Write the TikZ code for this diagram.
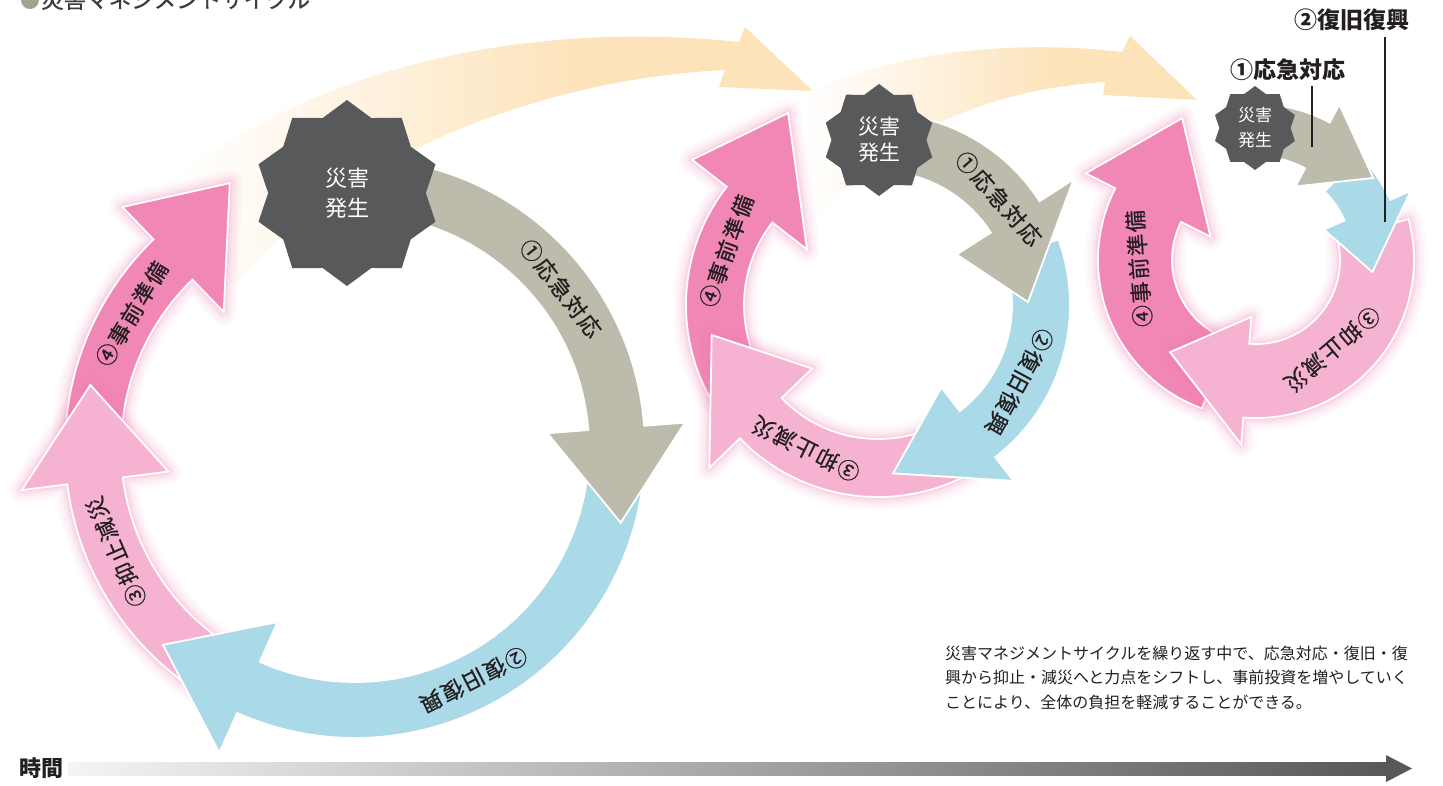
\documentclass[tikz,border=0pt]{standalone}
\usepackage{fontspec}
\newfontfamily\jp{Noto Sans CJK JP}
\newfontfamily\jpm{Noto Sans CJK JP}[FakeBold=0.6,LetterSpace=8]
\newfontfamily\jpt{Noto Sans CJK JP}[FakeBold=0.5]
\usetikzlibrary{shapes.geometric}
\definecolor{cgray}{HTML}{BDBBAB}
\definecolor{cblue}{HTML}{AAD9E8}
\definecolor{cpinkL}{HTML}{F5B3D1}
\definecolor{cpinkD}{HTML}{F087B5}
\definecolor{cburst}{HTML}{58595B}
\definecolor{cpeach}{HTML}{FDE3BA}
\definecolor{ctext}{HTML}{231F20}
\definecolor{cbullet}{HTML}{A3A28F}
\definecolor{cglow}{HTML}{F27BB0}
\definecolor{ctitle}{HTML}{3C3C3C}
\definecolor{tlL}{HTML}{F4F4F4}
\definecolor{tlR}{HTML}{58585A}
\pgfdeclarehorizontalshading{beigefade}{100bp}{color(0bp)=(white); color(27bp)=(white); color(58bp)=(cpeach); color(100bp)=(cpeach)}
% ring arrow: #1 start angle, #2 head base angle, #3 mid radius, #4 band width, #5 head width, #6 tip angle, #7 tip radius
\newcommand\ringarrow[7]{({#1}:{#3+#4/2}) arc[start angle={#1},end angle={#2},radius={#3+#4/2}] -- ({#2}:{#3+#5/2}) -- ({#6}:{#7}) -- ({#2}:{#3-#5/2}) -- ({#2}:{#3-#4/2}) arc[start angle={#2},end angle={#1},radius={#3-#4/2}] -- cycle}
\newcommand\glowunder[1]{\foreach \gw/\go in {26/0.04,20/0.05,14/0.07,9/0.09,5/0.12}{\draw[draw=cglow,line width=\gw,opacity=\go,line join=round] #1;}}
% ring label: #1 name, #2 angle, #3 radius, #4 text
\newcommand\ringlabel[4]{\node[ringtext,rotate={-(#2)-90}] (#1) at ({#2}:{#3}) {#4};}
\begin{document}
\begin{tikzpicture}[x=1pt,y=-1pt,
  arrowedge/.style={draw=white,line width=1.8,line join=miter},
  ringtext/.style={text=ctext,inner sep=0,font=\jpm\fontsize{22}{22}\selectfont},
  burst/.style={star,star points=10,star point ratio=1.18,fill=cburst,inner sep=0,text=white,align=center},
  toplabel/.style={text=ctext,inner sep=0,font=\jp\bfseries\fontsize{23}{23}\selectfont},
  leader/.style={draw=ctext,line width=1.3}]
\useasboundingbox (0,0) rectangle (1443,785);
\clip (0,0) rectangle (1443,785);
\fill[white] (0,0) rectangle (1443,785);

% title (cut off at top, as in the original)
\fill[cbullet] (30,0) circle[radius=9];
\node[anchor=base west,inner sep=0,text=ctitle,font=\jpt\fontsize{22.5}{22.5}\selectfont] (title) at (41,8) {災害マネジメントサイクル};

% beige time-flow arrows
\shade[shading=beigefade] (150,200) .. controls (290,75) and (510,18) .. (739,42) -- (745,27) -- (813,91) -- (719,87) -- (725,70) .. controls (520,80) and (330,170) .. (235,285) -- cycle;
\shade[shading=beigefade] (790,100) .. controls (880,55) and (1000,38) .. (1122,52) -- (1130,36) -- (1197,100) -- (1103,95) -- (1105,82) .. controls (1000,88) and (880,130) .. (815,225) -- cycle;

% ---------- cycle 1 ----------
\begin{scope}[shift={(355,448)}]
\glowunder{\ringarrow{183}{226}{262}{56}{146}{244.7}{293}}
\filldraw[arrowedge,fill=cpinkD] \ringarrow{183}{226}{262}{56}{146}{244.7}{293};
\glowunder{\ringarrow{122}{172.8}{262}{56}{148}{193.4}{272}}
\filldraw[arrowedge,fill=cpinkL] \ringarrow{122}{172.8}{262}{56}{148}{193.4}{272};
\filldraw[arrowedge,fill=cblue] \ringarrow{1}{114}{262}{56}{143}{134.3}{275};
\filldraw[arrowedge,fill=cgray] \ringarrow{275}{355.6}{262}{56}{138}{375.7}{276};
\ringlabel{a1}{322.2}{260.5}{①応急対応}
\ringlabel{a2}{62.9}{260.5}{②復旧復興}
\ringlabel{a3}{156.5}{260.5}{③抑止減災}
\ringlabel{a4}{211}{260.5}{④事前準備}
\end{scope}
\node[burst,minimum size=186,font=\jp\fontsize{22}{30}\selectfont] (b1) at (347,193) {災害\\発生};

% ---------- cycle 2 ----------
\begin{scope}[shift={(878,305)}]
\glowunder{\ringarrow{150}{218}{163}{58}{146}{244.9}{212}}
\filldraw[arrowedge,fill=cpinkD] \ringarrow{150}{218}{163}{58}{146}{244.9}{212};
\glowunder{\ringarrow{62}{136}{163}{58}{143}{169.8}{169}}
\filldraw[arrowedge,fill=cpinkL] \ringarrow{62}{136}{163}{58}{143}{169.8}{169};
\filldraw[arrowedge,fill=cblue] \ringarrow{-20}{52.4}{163}{58}{118}{84.9}{169};
\filldraw[arrowedge,fill=cgray] \ringarrow{268}{327.3}{163}{58}{139}{358.9}{150};
\ringlabel{b1l}{318.6}{161}{①応急対応}
\ringlabel{b2l}{28.5}{161}{②復旧復興}
\ringlabel{b3l}{116.6}{161}{③抑止減災}
\ringlabel{b4l}{199.6}{161}{④事前準備}
\end{scope}
\node[burst,minimum size=112,font=\jp\fontsize{21}{26}\selectfont] (b2) at (879,140) {災害\\発生};

% ---------- cycle 3 ----------
\begin{scope}[shift={(1256,260)}]
\glowunder{\ringarrow{110}{207}{121}{74}{140}{242.5}{160}}
\filldraw[arrowedge,fill=cpinkD] \ringarrow{110}{207}{121}{74}{140}{242.5}{160};
\glowunder{\ringarrow{-15}{94.6}{121}{74}{128}{133}{126}}
\filldraw[arrowedge,fill=cpinkL] \ringarrow{-15}{94.6}{121}{74}{128}{133}{126};
\filldraw[arrowedge,fill=cblue] \ringarrow{315}{335.9}{122}{50}{95}{365.9}{117};
\filldraw[arrowedge,fill=cgray] \ringarrow{262}{298.2}{130}{52}{93}{325}{143};
\ringlabel{c3l}{49.5}{117.5}{③抑止減災}
\ringlabel{c4l}{175.8}{117.5}{④事前準備}
\end{scope}
\node[burst,minimum size=84,font=\jp\fontsize{17}{25}\selectfont] (b3) at (1255,128) {災害\\発生};

% cycle 3 external labels with leader lines
\node[toplabel] (l1) at (1288,70) {①応急対応};
\node[toplabel] (l2) at (1352,20) {②復旧復興};
\coordinate (l1end) at (1312,147);
\coordinate (l2end) at (1385,222);
\draw[leader] (l1end |- l1.south) ++(0,5) -- (l1end);
\draw[leader] (l2end |- l2.south) ++(0,6) -- (l2end);

% description
\node[anchor=base west,inner sep=0,align=left,text=ctext,font=\jp\fontsize{16}{24.5}\selectfont] (desc) at (945,708) {災害マネジメントサイクルを繰り返す中で、応急対応・復旧・復\\興から抑止・減災へと力点をシフトし、事前投資を増やしていく\\ことにより、全体の負担を軽減することができる。};

% time axis
\node[anchor=base west,inner sep=0,text=ctext,font=\jp\bfseries\fontsize{22}{22}\selectfont] (time) at (19,776) {時間};
\coordinate (tlstart) at (68,768.5);
\coordinate (tlend) at (1412,768.5);
\shade[left color=tlL,right color=tlR] (tlstart) ++(0,-6.5) rectangle (1388,775);
\fill[tlR] (tlend) -- ++(-26,-13.5) -- ++(0,27) -- cycle;
\end{tikzpicture}
\end{document}
